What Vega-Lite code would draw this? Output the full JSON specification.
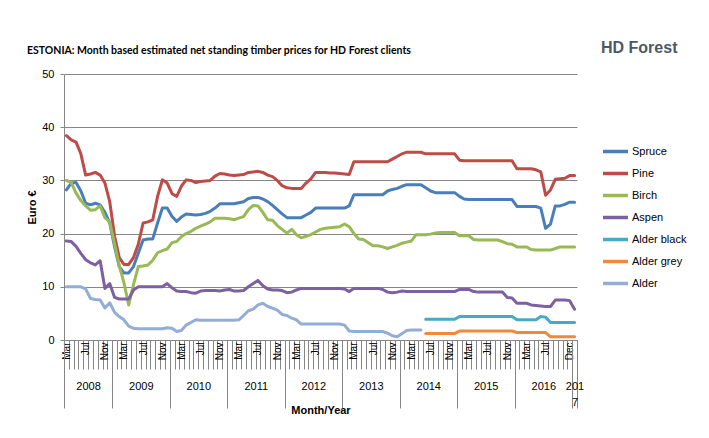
{
  "$schema": "https://vega.github.io/schema/vega-lite/v6.json",
  "autosize": {"type": "none"},
  "width": 513,
  "height": 266,
  "padding": {"left": 64, "top": 74, "right": 132, "bottom": 98},
  "background": "white",
  "config": {
    "view": {"stroke": null},
    "font": "Liberation Sans",
    "axis": {"labelFont": "Liberation Sans", "titleFont": "Liberation Sans", "labelColor": "#000000", "titleColor": "#000000"}
  },
  "title": {
    "text": "ESTONIA: Month based estimated net standing timber prices for HD Forest clients",
    "anchor": "start",
    "frame": "group",
    "dx": -37,
    "dy": 46,
    "baseline": "bottom",
    "offset": 20,
    "font": "Lato",
    "fontSize": 10.5,
    "fontWeight": "bold",
    "color": "#000000"
  },
  "data": {
    "values": [
      {"d": "2008-03", "Spruce": 28.2, "Pine": 38.4, "Birch": 30.0, "Aspen": 18.6, "Alder": 10.0},
      {"d": "2008-04", "Spruce": 29.5, "Pine": 37.6, "Birch": 29.6, "Aspen": 18.5, "Alder": 10.0},
      {"d": "2008-05", "Spruce": 29.6, "Pine": 37.2, "Birch": 27.6, "Aspen": 17.6, "Alder": 10.0},
      {"d": "2008-06", "Spruce": 28.0, "Pine": 35.0, "Birch": 26.2, "Aspen": 16.3, "Alder": 10.0},
      {"d": "2008-07", "Spruce": 25.7, "Pine": 31.0, "Birch": 25.2, "Aspen": 15.1, "Alder": 9.6},
      {"d": "2008-08", "Spruce": 25.4, "Pine": 31.2, "Birch": 24.4, "Aspen": 14.5, "Alder": 7.8},
      {"d": "2008-09", "Spruce": 25.7, "Pine": 31.5, "Birch": 24.5, "Aspen": 14.1, "Alder": 7.6},
      {"d": "2008-10", "Spruce": 25.4, "Pine": 31.0, "Birch": 25.2, "Aspen": 14.9, "Alder": 7.5},
      {"d": "2008-11", "Spruce": 24.0, "Pine": 29.5, "Birch": 23.0, "Aspen": 9.7, "Alder": 6.0},
      {"d": "2008-12", "Spruce": 22.0, "Pine": 26.0, "Birch": 22.2, "Aspen": 10.6, "Alder": 7.0},
      {"d": "2009-01", "Spruce": 17.5, "Pine": 19.5, "Birch": 18.0, "Aspen": 8.0, "Alder": 5.2},
      {"d": "2009-02", "Spruce": 13.8, "Pine": 15.5, "Birch": 14.0, "Aspen": 7.7, "Alder": 4.4},
      {"d": "2009-03", "Spruce": 12.6, "Pine": 14.2, "Birch": 10.8, "Aspen": 7.7, "Alder": 3.8},
      {"d": "2009-04", "Spruce": 12.6, "Pine": 14.2, "Birch": 6.6, "Aspen": 7.7, "Alder": 2.6},
      {"d": "2009-05", "Spruce": 13.8, "Pine": 15.5, "Birch": 10.4, "Aspen": 9.4, "Alder": 2.2},
      {"d": "2009-06", "Spruce": 16.3, "Pine": 18.0, "Birch": 13.8, "Aspen": 10.0, "Alder": 2.1},
      {"d": "2009-07", "Spruce": 18.8, "Pine": 22.0, "Birch": 13.9, "Aspen": 10.0, "Alder": 2.1},
      {"d": "2009-08", "Spruce": 19.0, "Pine": 22.2, "Birch": 14.1, "Aspen": 10.0, "Alder": 2.1},
      {"d": "2009-09", "Spruce": 19.0, "Pine": 22.6, "Birch": 15.0, "Aspen": 10.0, "Alder": 2.1},
      {"d": "2009-10", "Spruce": 22.0, "Pine": 27.0, "Birch": 16.4, "Aspen": 10.0, "Alder": 2.1},
      {"d": "2009-11", "Spruce": 24.8, "Pine": 30.1, "Birch": 16.8, "Aspen": 10.0, "Alder": 2.1},
      {"d": "2009-12", "Spruce": 24.8, "Pine": 29.5, "Birch": 17.1, "Aspen": 10.6, "Alder": 2.3},
      {"d": "2010-01", "Spruce": 23.2, "Pine": 27.5, "Birch": 18.3, "Aspen": 9.8, "Alder": 2.2},
      {"d": "2010-02", "Spruce": 22.3, "Pine": 27.0, "Birch": 18.5, "Aspen": 9.2, "Alder": 1.6},
      {"d": "2010-03", "Spruce": 23.1, "Pine": 28.9, "Birch": 19.4, "Aspen": 9.1, "Alder": 1.8},
      {"d": "2010-04", "Spruce": 23.7, "Pine": 30.1, "Birch": 20.0, "Aspen": 9.1, "Alder": 2.8},
      {"d": "2010-05", "Spruce": 23.6, "Pine": 30.0, "Birch": 20.4, "Aspen": 8.9, "Alder": 3.3},
      {"d": "2010-06", "Spruce": 23.5, "Pine": 29.6, "Birch": 21.0, "Aspen": 8.8, "Alder": 3.8},
      {"d": "2010-07", "Spruce": 23.6, "Pine": 29.8, "Birch": 21.4, "Aspen": 9.2, "Alder": 3.7},
      {"d": "2010-08", "Spruce": 23.8, "Pine": 29.9, "Birch": 21.8, "Aspen": 9.3, "Alder": 3.7},
      {"d": "2010-09", "Spruce": 24.2, "Pine": 30.0, "Birch": 22.2, "Aspen": 9.3, "Alder": 3.7},
      {"d": "2010-10", "Spruce": 24.8, "Pine": 30.8, "Birch": 22.9, "Aspen": 9.3, "Alder": 3.7},
      {"d": "2010-11", "Spruce": 25.6, "Pine": 31.3, "Birch": 22.9, "Aspen": 9.2, "Alder": 3.7},
      {"d": "2010-12", "Spruce": 25.6, "Pine": 31.2, "Birch": 22.9, "Aspen": 9.4, "Alder": 3.7},
      {"d": "2011-01", "Spruce": 25.6, "Pine": 31.0, "Birch": 22.8, "Aspen": 9.5, "Alder": 3.7},
      {"d": "2011-02", "Spruce": 25.6, "Pine": 30.9, "Birch": 22.6, "Aspen": 9.2, "Alder": 3.7},
      {"d": "2011-03", "Spruce": 25.8, "Pine": 31.0, "Birch": 22.9, "Aspen": 9.2, "Alder": 3.8},
      {"d": "2011-04", "Spruce": 26.0, "Pine": 31.1, "Birch": 23.2, "Aspen": 9.3, "Alder": 4.6},
      {"d": "2011-05", "Spruce": 26.6, "Pine": 31.5, "Birch": 24.5, "Aspen": 10.0, "Alder": 5.5},
      {"d": "2011-06", "Spruce": 26.8, "Pine": 31.6, "Birch": 25.3, "Aspen": 10.6, "Alder": 5.8},
      {"d": "2011-07", "Spruce": 26.8, "Pine": 31.7, "Birch": 25.2, "Aspen": 11.2, "Alder": 6.6},
      {"d": "2011-08", "Spruce": 26.5, "Pine": 31.5, "Birch": 24.0, "Aspen": 10.2, "Alder": 6.9},
      {"d": "2011-09", "Spruce": 26.0, "Pine": 31.0, "Birch": 22.6, "Aspen": 9.6, "Alder": 6.3},
      {"d": "2011-10", "Spruce": 25.3, "Pine": 30.7, "Birch": 22.5, "Aspen": 9.4, "Alder": 6.0},
      {"d": "2011-11", "Spruce": 24.5, "Pine": 30.0, "Birch": 21.5, "Aspen": 9.4, "Alder": 5.6},
      {"d": "2011-12", "Spruce": 23.7, "Pine": 29.0, "Birch": 20.8, "Aspen": 9.3, "Alder": 4.8},
      {"d": "2012-01", "Spruce": 23.0, "Pine": 28.6, "Birch": 20.1, "Aspen": 8.9, "Alder": 4.6},
      {"d": "2012-02", "Spruce": 23.0, "Pine": 28.5, "Birch": 20.8, "Aspen": 9.0, "Alder": 4.1},
      {"d": "2012-03", "Spruce": 23.0, "Pine": 28.5, "Birch": 19.8, "Aspen": 9.4, "Alder": 3.8},
      {"d": "2012-04", "Spruce": 23.0, "Pine": 28.5, "Birch": 19.2, "Aspen": 9.7, "Alder": 3.0},
      {"d": "2012-05", "Spruce": 23.5, "Pine": 29.5, "Birch": 19.5, "Aspen": 9.7, "Alder": 3.0},
      {"d": "2012-06", "Spruce": 24.0, "Pine": 30.3, "Birch": 19.8, "Aspen": 9.7, "Alder": 3.0},
      {"d": "2012-07", "Spruce": 24.8, "Pine": 31.5, "Birch": 20.3, "Aspen": 9.7, "Alder": 3.0},
      {"d": "2012-08", "Spruce": 24.8, "Pine": 31.5, "Birch": 20.8, "Aspen": 9.7, "Alder": 3.0},
      {"d": "2012-09", "Spruce": 24.8, "Pine": 31.5, "Birch": 21.0, "Aspen": 9.7, "Alder": 3.0},
      {"d": "2012-10", "Spruce": 24.8, "Pine": 31.4, "Birch": 21.1, "Aspen": 9.7, "Alder": 3.0},
      {"d": "2012-11", "Spruce": 24.8, "Pine": 31.4, "Birch": 21.2, "Aspen": 9.7, "Alder": 3.0},
      {"d": "2012-12", "Spruce": 24.8, "Pine": 31.3, "Birch": 21.3, "Aspen": 9.7, "Alder": 3.0},
      {"d": "2013-01", "Spruce": 24.8, "Pine": 31.2, "Birch": 21.8, "Aspen": 9.6, "Alder": 2.8},
      {"d": "2013-02", "Spruce": 25.2, "Pine": 31.1, "Birch": 21.3, "Aspen": 9.1, "Alder": 1.7},
      {"d": "2013-03", "Spruce": 27.3, "Pine": 33.5, "Birch": 20.0, "Aspen": 9.7, "Alder": 1.6},
      {"d": "2013-04", "Spruce": 27.3, "Pine": 33.5, "Birch": 19.0, "Aspen": 9.7, "Alder": 1.6},
      {"d": "2013-05", "Spruce": 27.3, "Pine": 33.5, "Birch": 18.9, "Aspen": 9.7, "Alder": 1.6},
      {"d": "2013-06", "Spruce": 27.3, "Pine": 33.5, "Birch": 18.3, "Aspen": 9.7, "Alder": 1.6},
      {"d": "2013-07", "Spruce": 27.3, "Pine": 33.5, "Birch": 17.7, "Aspen": 9.7, "Alder": 1.6},
      {"d": "2013-08", "Spruce": 27.3, "Pine": 33.5, "Birch": 17.7, "Aspen": 9.7, "Alder": 1.6},
      {"d": "2013-09", "Spruce": 27.3, "Pine": 33.5, "Birch": 17.5, "Aspen": 9.5, "Alder": 1.6},
      {"d": "2013-10", "Spruce": 28.0, "Pine": 33.5, "Birch": 17.2, "Aspen": 9.0, "Alder": 1.3},
      {"d": "2013-11", "Spruce": 28.3, "Pine": 34.0, "Birch": 17.5, "Aspen": 8.9, "Alder": 0.8},
      {"d": "2013-12", "Spruce": 28.5, "Pine": 34.5, "Birch": 17.8, "Aspen": 9.0, "Alder": 0.6},
      {"d": "2014-01", "Spruce": 28.9, "Pine": 35.0, "Birch": 18.2, "Aspen": 9.2, "Alder": 1.2},
      {"d": "2014-02", "Spruce": 29.2, "Pine": 35.3, "Birch": 18.4, "Aspen": 9.1, "Alder": 1.8},
      {"d": "2014-03", "Spruce": 29.2, "Pine": 35.3, "Birch": 18.6, "Aspen": 9.1, "Alder": 1.9},
      {"d": "2014-04", "Spruce": 29.2, "Pine": 35.3, "Birch": 19.8, "Aspen": 9.1, "Alder": 1.9},
      {"d": "2014-05", "Spruce": 29.2, "Pine": 35.3, "Birch": 19.8, "Aspen": 9.1, "Alder": 1.9},
      {"d": "2014-06", "Spruce": 28.6, "Pine": 35.0, "Birch": 19.8, "Aspen": 9.1, "Alder black": 3.9, "Alder grey": 1.2},
      {"d": "2014-07", "Spruce": 28.0, "Pine": 35.0, "Birch": 19.9, "Aspen": 9.1, "Alder black": 3.9, "Alder grey": 1.2},
      {"d": "2014-08", "Spruce": 27.7, "Pine": 35.0, "Birch": 20.1, "Aspen": 9.1, "Alder black": 3.9, "Alder grey": 1.2},
      {"d": "2014-09", "Spruce": 27.7, "Pine": 35.0, "Birch": 20.2, "Aspen": 9.1, "Alder black": 3.9, "Alder grey": 1.2},
      {"d": "2014-10", "Spruce": 27.7, "Pine": 35.0, "Birch": 20.2, "Aspen": 9.1, "Alder black": 3.9, "Alder grey": 1.2},
      {"d": "2014-11", "Spruce": 27.7, "Pine": 35.0, "Birch": 20.2, "Aspen": 9.1, "Alder black": 3.9, "Alder grey": 1.2},
      {"d": "2014-12", "Spruce": 27.7, "Pine": 35.0, "Birch": 20.2, "Aspen": 9.1, "Alder black": 3.9, "Alder grey": 1.2},
      {"d": "2015-01", "Spruce": 27.0, "Pine": 33.8, "Birch": 19.6, "Aspen": 9.5, "Alder black": 4.4, "Alder grey": 1.7},
      {"d": "2015-02", "Spruce": 26.5, "Pine": 33.7, "Birch": 19.6, "Aspen": 9.5, "Alder black": 4.4, "Alder grey": 1.7},
      {"d": "2015-03", "Spruce": 26.4, "Pine": 33.7, "Birch": 19.6, "Aspen": 9.5, "Alder black": 4.4, "Alder grey": 1.7},
      {"d": "2015-04", "Spruce": 26.4, "Pine": 33.7, "Birch": 18.9, "Aspen": 9.1, "Alder black": 4.4, "Alder grey": 1.7},
      {"d": "2015-05", "Spruce": 26.4, "Pine": 33.7, "Birch": 18.8, "Aspen": 9.0, "Alder black": 4.4, "Alder grey": 1.7},
      {"d": "2015-06", "Spruce": 26.4, "Pine": 33.7, "Birch": 18.8, "Aspen": 9.0, "Alder black": 4.4, "Alder grey": 1.7},
      {"d": "2015-07", "Spruce": 26.4, "Pine": 33.7, "Birch": 18.8, "Aspen": 9.0, "Alder black": 4.4, "Alder grey": 1.7},
      {"d": "2015-08", "Spruce": 26.4, "Pine": 33.7, "Birch": 18.8, "Aspen": 9.0, "Alder black": 4.4, "Alder grey": 1.7},
      {"d": "2015-09", "Spruce": 26.4, "Pine": 33.7, "Birch": 18.8, "Aspen": 9.0, "Alder black": 4.4, "Alder grey": 1.7},
      {"d": "2015-10", "Spruce": 26.4, "Pine": 33.7, "Birch": 18.5, "Aspen": 9.0, "Alder black": 4.4, "Alder grey": 1.7},
      {"d": "2015-11", "Spruce": 26.4, "Pine": 33.7, "Birch": 18.1, "Aspen": 8.0, "Alder black": 4.4, "Alder grey": 1.7},
      {"d": "2015-12", "Spruce": 26.4, "Pine": 33.7, "Birch": 18.0, "Aspen": 7.9, "Alder black": 4.4, "Alder grey": 1.7},
      {"d": "2016-01", "Spruce": 25.1, "Pine": 32.2, "Birch": 17.5, "Aspen": 6.9, "Alder black": 3.8, "Alder grey": 1.4},
      {"d": "2016-02", "Spruce": 25.1, "Pine": 32.2, "Birch": 17.5, "Aspen": 6.9, "Alder black": 3.8, "Alder grey": 1.4},
      {"d": "2016-03", "Spruce": 25.1, "Pine": 32.2, "Birch": 17.5, "Aspen": 6.9, "Alder black": 3.8, "Alder grey": 1.4},
      {"d": "2016-04", "Spruce": 25.1, "Pine": 32.2, "Birch": 17.0, "Aspen": 6.6, "Alder black": 3.8, "Alder grey": 1.4},
      {"d": "2016-05", "Spruce": 25.1, "Pine": 32.0, "Birch": 16.9, "Aspen": 6.5, "Alder black": 3.8, "Alder grey": 1.4},
      {"d": "2016-06", "Spruce": 24.8, "Pine": 31.6, "Birch": 16.9, "Aspen": 6.4, "Alder black": 4.4, "Alder grey": 1.4},
      {"d": "2016-07", "Spruce": 21.0, "Pine": 27.2, "Birch": 16.9, "Aspen": 6.3, "Alder black": 4.3, "Alder grey": 1.4},
      {"d": "2016-08", "Spruce": 21.8, "Pine": 28.2, "Birch": 16.9, "Aspen": 6.3, "Alder black": 3.3, "Alder grey": 0.6},
      {"d": "2016-09", "Spruce": 25.2, "Pine": 30.2, "Birch": 17.2, "Aspen": 7.5, "Alder black": 3.3, "Alder grey": 0.6},
      {"d": "2016-10", "Spruce": 25.2, "Pine": 30.3, "Birch": 17.5, "Aspen": 7.5, "Alder black": 3.3, "Alder grey": 0.6},
      {"d": "2016-11", "Spruce": 25.5, "Pine": 30.4, "Birch": 17.5, "Aspen": 7.5, "Alder black": 3.3, "Alder grey": 0.6},
      {"d": "2016-12", "Spruce": 25.9, "Pine": 30.9, "Birch": 17.5, "Aspen": 7.4, "Alder black": 3.3, "Alder grey": 0.6},
      {"d": "2017-01", "Spruce": 25.9, "Pine": 30.9, "Birch": 17.5, "Aspen": 5.8, "Alder black": 3.3, "Alder grey": 0.6}
    ]
  },
  "transform": [
    {"fold": ["Spruce", "Pine", "Birch", "Aspen", "Alder black", "Alder grey", "Alder"], "as": ["species", "price"]},
    {"filter": "isValid(datum.price)"}
  ],
  "resolve": {"axis": {"x": "independent"}},
  "layer": [
    {
      "mark": {"type": "line", "strokeWidth": 3, "strokeCap": "round", "strokeJoin": "round"},
      "encoding": {
        "x": {
          "field": "d", "timeUnit": "utcyearmonth", "type": "temporal", "bandPosition": 0.5,
          "scale": {"type": "utc", "domain": [{"year": 2008, "month": 3, "date": 1, "utc": true}, {"year": 2017, "month": 2, "date": 1, "utc": true}]},
          "axis": {
            "orient": "bottom",
            "title": null,
            "grid": false,
            "tickCount": {"interval": "month", "step": 1},
            "tickSize": 29,
            "tickColor": "#868686",
            "domainColor": "#868686",
            "labelAngle": 270,
            "labelAlign": "right",
            "labelBaseline": "middle",
            "labelPadding": -27,
            "labelOffset": 2.4,
            "labelFontSize": 10,
            "labelOverlap": false,
            "labelBound": false,
            "labelFlush": false,
            "labelExpr": "(utcyear(datum.value)==2016 && utcmonth(datum.value)==11) ? 'Dec' : ((utcmonth(datum.value)==2 || utcmonth(datum.value)==6 || (utcmonth(datum.value)==10 && utcyear(datum.value)!=2016)) ? utcFormat(datum.value, '%b') : '')"
          }
        },
        "y": {
          "field": "price", "type": "quantitative",
          "scale": {"domain": [0, 50], "nice": false},
          "axis": {
            "title": "Euro €",
            "titleFontSize": 11,
            "titleFontWeight": "bold",
            "titlePadding": 4,
            "values": [0, 5, 10, 15, 20, 25, 30, 35, 40, 45, 50],
            "labelFontSize": 11,
            "labelPadding": 6,
            "tickSize": 4,
            "tickColor": "#868686",
            "domainColor": "#868686",
            "gridColor": "#868686",
            "grid": true
          }
        },
        "color": {
          "field": "species", "type": "nominal",
          "scale": {
            "domain": ["Spruce", "Pine", "Birch", "Aspen", "Alder black", "Alder grey", "Alder"],
            "range": ["#4A7EBB", "#BE4B48", "#98B954", "#7D60A0", "#46AAC5", "#F0893E", "#93ADD6"]
          },
          "legend": {
            "orient": "none",
            "legendX": 537,
            "legendY": -34,
            "padding": 0,
            "title": "HD Forest",
            "titleFontSize": 16,
            "titleFontWeight": "bold",
            "titleColor": "#4d5a64",
            "titlePadding": 81,
            "symbolType": "stroke",
            "symbolSize": 625,
            "symbolStrokeWidth": 3.5,
            "labelFontSize": 11,
            "labelOffset": 2,
            "rowPadding": -2.1,
            "labelColor": "#000000"
          }
        }
      }
    },
    {
      "mark": {"type": "point", "opacity": 0},
      "encoding": {
        "x": {
          "field": "d", "timeUnit": "utcyearmonth", "type": "temporal", "bandPosition": 0.5,
          "axis": {
            "orient": "bottom",
            "grid": false,
            "domain": false,
            "labels": false,
            "values": [
              {"year": 2008, "month": 3, "date": 1, "utc": true},
              {"year": 2009, "month": 1, "date": 1, "utc": true},
              {"year": 2010, "month": 1, "date": 1, "utc": true},
              {"year": 2011, "month": 1, "date": 1, "utc": true},
              {"year": 2012, "month": 1, "date": 1, "utc": true},
              {"year": 2013, "month": 1, "date": 1, "utc": true},
              {"year": 2014, "month": 1, "date": 1, "utc": true},
              {"year": 2015, "month": 1, "date": 1, "utc": true},
              {"year": 2016, "month": 1, "date": 1, "utc": true},
              {"year": 2017, "month": 1, "date": 1, "utc": true},
              {"year": 2017, "month": 2, "date": 1, "utc": true}
            ],
            "tickSize": 68,
            "tickColor": "#868686",
            "title": "Month/Year",
            "titleFontSize": 11,
            "titleFontWeight": "bold",
            "titlePadding": -4
          }
        },
        "y": {"field": "price", "type": "quantitative"}
      }
    },
    {
      "mark": {"type": "point", "opacity": 0},
      "encoding": {
        "x": {
          "field": "d", "timeUnit": "utcyearmonth", "type": "temporal", "bandPosition": 0.5,
          "axis": {
            "orient": "bottom",
            "grid": false,
            "domain": false,
            "ticks": false,
            "title": null,
            "values": [
              {"year": 2008, "month": 8, "date": 1, "utc": true},
              {"year": 2009, "month": 7, "date": 2, "utc": true},
              {"year": 2010, "month": 7, "date": 2, "utc": true},
              {"year": 2011, "month": 7, "date": 2, "utc": true},
              {"year": 2012, "month": 7, "date": 2, "utc": true},
              {"year": 2013, "month": 7, "date": 2, "utc": true},
              {"year": 2014, "month": 7, "date": 2, "utc": true},
              {"year": 2015, "month": 7, "date": 2, "utc": true},
              {"year": 2016, "month": 7, "date": 2, "utc": true},
              {"year": 2017, "month": 1, "date": 16, "utc": true}
            ],
            "labelPadding": 40,
            "labelBaseline": "top",
            "labelFontSize": 11,
            "labelOverlap": false,
            "labelBound": false,
            "labelFlush": false,
            "labelLineHeight": 16,
            "labelExpr": "utcyear(datum.value)==2017 ? ['201', '7'] : utcFormat(datum.value, '%Y')"
          }
        },
        "y": {"field": "price", "type": "quantitative"}
      }
    }
  ]
}
